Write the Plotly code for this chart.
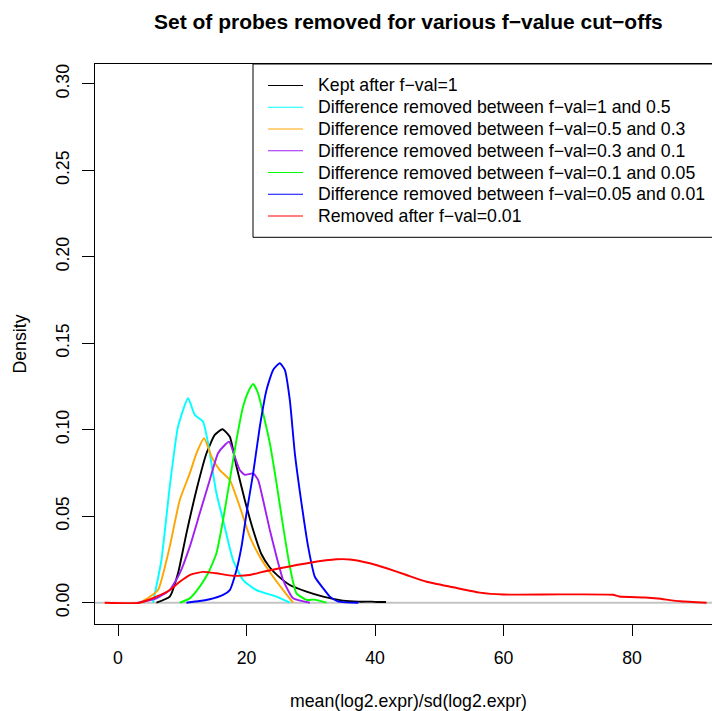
import plotly.graph_objects as go

# ---------------- data ----------------
series_names = [
    "Kept after f\u2212val=1",
    "Difference removed between f\u2212val=1 and 0.5",
    "Difference removed between f\u2212val=0.5 and 0.3",
    "Difference removed between f\u2212val=0.3 and 0.1",
    "Difference removed between f\u2212val=0.1 and 0.05",
    "Difference removed between f\u2212val=0.05 and 0.01",
    "Removed after f\u2212val=0.01",
]
series_colors = ["#000000", "#00FFFF", "#FFA500", "#A020F0", "#00FF00", "#0000FF", "#FF0000"]

kept_x = [5.98, 8.05, 9.34, 10.65, 12.21, 13.77, 15.06, 16.26, 17.4, 18.44, 19.73, 21.03, 22.33,
          23.6, 24.9, 26.74, 29.34, 31.93, 35.0, 37.4, 39.5, 40.4, 41.7]
kept_y = [0.0, 0.0035, 0.017, 0.0401, 0.0652, 0.0864, 0.097, 0.1003, 0.096, 0.0787, 0.0594, 0.042, 0.028,
          0.0205, 0.0155, 0.0102, 0.0064, 0.0035, 0.0012, 0.0006, 0.0006, 0.0004, 0.0004]

d1_05_x = [5.45, 6.76, 8.05, 9.34, 10.9, 11.95, 13.24, 14.02, 15.32, 16.35, 17.9, 19.47, 21.55, 24.67, 26.74]
d1_05_y = [0.0, 0.0247, 0.067, 0.1018, 0.1182, 0.1086, 0.1047, 0.0922, 0.0633, 0.0478, 0.0247, 0.0131, 0.0073, 0.0035, 0.0]

d05_03_x = [3.38, 4.67, 6.23, 8.05, 9.61, 11.17, 12.21, 13.4, 14.55, 15.84, 17.4, 18.95, 20.51, 22.07,
            24.14, 25.7, 27.25]
d05_03_y = [0.0, 0.0027, 0.0073, 0.0324, 0.0594, 0.0748, 0.0864, 0.0951, 0.0845, 0.0767, 0.071, 0.0555, 0.0382,
            0.0266, 0.015, 0.0073, 0.0]

d03_01_x = [3.1, 5.98, 8.05, 9.61, 11.17, 12.72, 14.28, 15.57, 16.62, 17.29, 18.17, 18.95, 19.73, 21.03,
            21.8, 22.58, 23.63, 24.67, 25.7, 27.25, 29.86]
d03_01_y = [0.0, 0.0025, 0.0073, 0.017, 0.0324, 0.0517, 0.071, 0.0864, 0.0912, 0.0931, 0.0845, 0.0767, 0.0739, 0.0748,
            0.071, 0.0594, 0.042, 0.0266, 0.0131, 0.0025, 0.0]

d01_005_x = [9.61, 11.17, 12.72, 14.02, 15.32, 16.35, 17.4, 18.44, 19.47, 20.4, 21.03, 21.8, 22.58, 23.63,
             24.67, 25.7, 26.74, 27.78, 29.34, 30.5, 31.3, 32.45]
d01_005_y = [0.0, 0.0025, 0.0093, 0.017, 0.0286, 0.0478, 0.071, 0.0941, 0.1134, 0.123, 0.1265, 0.1211, 0.1095, 0.0922,
             0.069, 0.044, 0.0208, 0.0054, 0.0016, 0.0018, 0.0012, 0.0]

d005_001_x = [10.65, 12.72, 14.28, 16.35, 17.4, 18.44, 19.22, 20.0, 21.03, 22.07, 23.11, 24.14, 25.18, 25.96,
              26.74, 27.52, 28.56, 29.59, 30.63, 31.93, 32.97, 34.2, 35.5, 37.4]
d005_001_y = [0.0, 0.001, 0.002, 0.0045, 0.0073, 0.0189, 0.0324, 0.0517, 0.0748, 0.1018, 0.123, 0.1346, 0.1385, 0.1346,
              0.1172, 0.0864, 0.0575, 0.0324, 0.015, 0.0083, 0.0035, 0.0008, 0.0002, 0.0]

removed_x = [-2.07, 3.38, 5.98, 8.05, 9.61, 11.17, 13.24, 15.32, 17.9, 20.51, 22.58, 25.18, 29.86, 34.0, 36.08,
             39.2, 41.8, 44.9, 48.03, 52.17, 56.3, 59.96, 68.8, 77.0, 78.0, 82.0, 84.0, 87.5, 91.6]
removed_y = [0.0, 0.0, 0.0035, 0.0073, 0.0121, 0.016, 0.0178, 0.017, 0.0156, 0.016, 0.0179, 0.0199, 0.0231, 0.0251, 0.025,
             0.0228, 0.0199, 0.016, 0.0121, 0.0089, 0.0058, 0.0047, 0.0048, 0.0046, 0.0036, 0.003, 0.0024, 0.0008, 0.0]

series_x = [kept_x, d1_05_x, d05_03_x, d03_01_x, d01_005_x, d005_001_x, removed_x]
series_y = [kept_y, d1_05_y, d05_03_y, d03_01_y, d01_005_y, d005_001_y, removed_y]

x_ticks = [0, 20, 40, 60, 80]
y_ticks = [0.00, 0.05, 0.10, 0.15, 0.20, 0.25, 0.30]
y_tick_labels = ["0.00", "0.05", "0.10", "0.15", "0.20", "0.25", "0.30"]

title_text = "Set of probes removed for various f\u2212value cut\u2212offs"
x_title = "mean(log2.expr)/sd(log2.expr)"
y_title = "Density"

# ---------------- layout geometry ----------------
W, H = 712, 711
L, R, T, B = 95, 0, 64, 87
pw, ph = W - L - R, H - T - B


def px_to_paper_x(px):
    return (px - L) / pw


def py_to_paper_y(py):
    return (H - B - py) / ph


FONT = "Liberation Sans, Arial, Helvetica, sans-serif"

fig = go.Figure()
for name, color, xs, ys in zip(series_names, series_colors, series_x, series_y):
    fig.add_trace(go.Scatter(x=xs, y=ys, mode="lines", name=name,
                             line=dict(color=color, width=1.9, shape="spline", smoothing=0.5),
                             showlegend=False, hoverinfo="skip"))

shapes = [
    # zero reference line (gray)
    dict(type="line", xref="paper", yref="y", x0=0, x1=1, y0=0, y1=0,
         line=dict(color="#C4C4C4", width=2), layer="below"),
]

# manual legend (R style)
leg_left, leg_top, leg_bottom, leg_right = 253, 64, 237.3, 716
shapes.append(dict(type="rect", xref="paper", yref="paper",
                   x0=px_to_paper_x(leg_left), x1=px_to_paper_x(leg_right),
                   y0=py_to_paper_y(leg_bottom), y1=py_to_paper_y(leg_top),
                   line=dict(color="#000000", width=1), fillcolor="rgba(255,255,255,1)",
                   layer="above"))
annotations = []
row0, row_step = 85.5, 21.75
for i, (name, color) in enumerate(zip(series_names, series_colors)):
    yy = py_to_paper_y(row0 + i * row_step)
    shapes.append(dict(type="line", xref="paper", yref="paper",
                       x0=px_to_paper_x(268), x1=px_to_paper_x(303), y0=yy, y1=yy,
                       line=dict(color=color, width=1.2), layer="above"))
    annotations.append(dict(xref="paper", yref="paper", x=px_to_paper_x(316), y=yy,
                            text=name, showarrow=False, xanchor="left", yanchor="middle",
                            font=dict(family=FONT, size=17.7, color="#000000")))

annotations.append(dict(xref="paper", yref="paper", x=px_to_paper_x(408), y=py_to_paper_y(21),
                        text="<b>" + title_text + "</b>", showarrow=False,
                        xanchor="center", yanchor="middle",
                        font=dict(family=FONT, size=21, color="#000000")))
annotations.append(dict(xref="paper", yref="paper", x=px_to_paper_x(408), y=py_to_paper_y(701),
                        text=x_title, showarrow=False, xanchor="center", yanchor="middle",
                        font=dict(family=FONT, size=17.7, color="#000000")))
annotations.append(dict(xref="paper", yref="paper", x=px_to_paper_x(19.5), y=py_to_paper_y(344),
                        text=y_title, showarrow=False, xanchor="center", yanchor="middle",
                        textangle=-90, font=dict(family=FONT, size=17.7, color="#000000")))

fig.update_layout(
    width=W, height=H,
    margin=dict(l=L, r=R, t=T, b=B, pad=0),
    paper_bgcolor="white", plot_bgcolor="white",
    font=dict(family=FONT, size=17, color="#000000"),
    showlegend=False,
    shapes=shapes,
    annotations=annotations,
    xaxis=dict(range=[-3.58, 92.44], tickvals=x_ticks, ticktext=[str(v) for v in x_ticks],
               showgrid=False, zeroline=False, showline=True, linecolor="#000000", linewidth=1,
               mirror=True, ticks="outside", ticklen=11, tickcolor="#000000", tickwidth=1,
               ticklabelstandoff=7, tickfont=dict(family=FONT, size=17.7)),
    yaxis=dict(range=[-0.01232, 0.3115], tickvals=y_ticks, ticktext=y_tick_labels,
               showgrid=False, zeroline=False, showline=True, linecolor="#000000", linewidth=1,
               mirror=False, ticks="outside", ticklen=12, tickcolor="#000000", tickwidth=1,
               tickangle=-90, ticklabelstandoff=6, tickfont=dict(family=FONT, size=17.7)),
)

fig.write_html("out.html", config={"displayModeBar": False},
               post_script="document.body.style.margin='0px';document.body.style.overflow='hidden';")
